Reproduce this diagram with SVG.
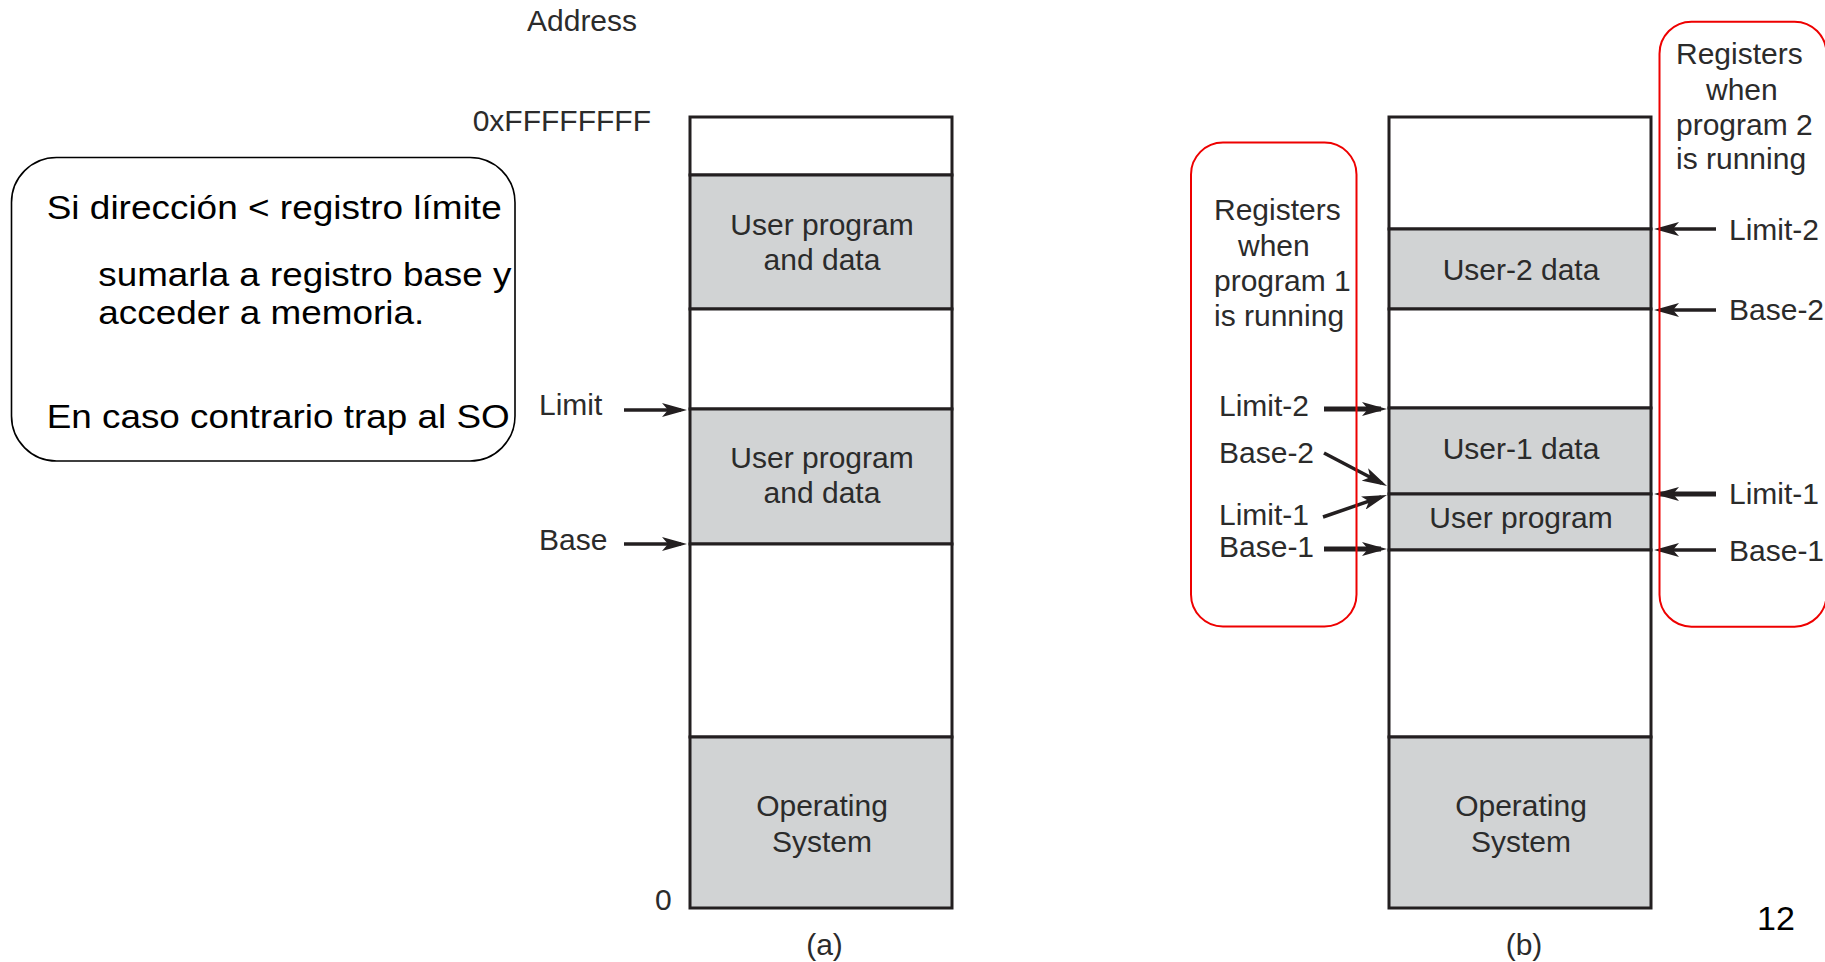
<svg xmlns="http://www.w3.org/2000/svg" width="1825" height="962" viewBox="0 0 1825 962">
  <style>
    .lbl { font-family: "Liberation Sans", Arial, sans-serif; font-size: 30px; fill: #2b2b2b; }
    .mid { text-anchor: middle; }
    .es { font-family: "Liberation Sans", Arial, sans-serif; font-size: 34px; fill: #000; }
    .blk { fill: #fff; stroke: #231f20; stroke-width: 3; }
    .gry { fill: #d1d3d4; stroke: #231f20; stroke-width: 3; }
    .arr { stroke: #231f20; stroke-width: 3.5; fill: none; marker-end: url(#ah); }
    .arrT { stroke: #231f20; stroke-width: 5; fill: none; marker-end: url(#ah); }
    .red { fill: none; stroke: #ee0000; stroke-width: 2; }
  </style>
  <defs>
    <marker id="ah" viewBox="0 0 25 14" refX="19" refY="7" markerWidth="25" markerHeight="14" markerUnits="userSpaceOnUse" orient="auto">
      <path d="M0,0 L25,7 L0,14 L6,7 Z" fill="#231f20"/>
    </marker>
  </defs>

  <!-- Spanish note box -->
  <g id="note">
    <rect x="11.5" y="157.5" width="503.5" height="303.5" rx="45" ry="45" fill="#fff" stroke="#000" stroke-width="1.6"/>
    <text class="es" x="46.7" y="218.5" textLength="455" lengthAdjust="spacingAndGlyphs">Si dirección &lt; registro límite</text>
    <text class="es" x="98.3" y="285.5" textLength="413" lengthAdjust="spacingAndGlyphs">sumarla a registro base y</text>
    <text class="es" x="98.3" y="323.5" textLength="326" lengthAdjust="spacingAndGlyphs">acceder a memoria.</text>
    <text class="es" x="46.7" y="428" textLength="463" lengthAdjust="spacingAndGlyphs">En caso contrario trap al SO</text>
  </g>

  <!-- Figure (a) -->
  <g id="axis-a">
    <text class="lbl" x="527" y="30.5">Address</text>
    <text class="lbl" x="472.7" y="130.5">0xFFFFFFFF</text>
    <text class="lbl" x="655" y="910">0</text>
    <text class="lbl mid" x="824.5" y="955">(a)</text>
    <text class="lbl" x="539" y="415">Limit</text>
    <text class="lbl" x="539" y="550">Base</text>
  </g>
  <g id="column-a">
    <rect class="blk" x="690" y="117" width="262" height="58"/>
    <rect class="gry" x="690" y="175" width="262" height="134"/>
    <rect class="blk" x="690" y="309" width="262" height="100"/>
    <rect class="gry" x="690" y="409" width="262" height="135"/>
    <rect class="blk" x="690" y="544" width="262" height="193"/>
    <rect class="gry" x="690" y="737" width="262" height="171"/>
    <text class="lbl mid" x="822" y="235">User program</text>
    <text class="lbl mid" x="822" y="270">and data</text>
    <text class="lbl mid" x="822" y="468">User program</text>
    <text class="lbl mid" x="822" y="503">and data</text>
    <text class="lbl mid" x="822" y="816">Operating</text>
    <text class="lbl mid" x="822" y="852">System</text>
  </g>

  <!-- Figure (b) -->
  <g id="column-b">
    <rect class="blk" x="1389" y="117" width="262" height="112"/>
    <rect class="gry" x="1389" y="229" width="262" height="80"/>
    <rect class="blk" x="1389" y="309" width="262" height="99"/>
    <rect class="gry" x="1389" y="408" width="262" height="86"/>
    <rect class="gry" x="1389" y="494" width="262" height="56"/>
    <rect class="blk" x="1389" y="550" width="262" height="187"/>
    <rect class="gry" x="1389" y="737" width="262" height="171"/>
    <text class="lbl mid" x="1521" y="280">User-2 data</text>
    <text class="lbl mid" x="1521" y="459">User-1 data</text>
    <text class="lbl mid" x="1521" y="528">User program</text>
    <text class="lbl mid" x="1521" y="816">Operating</text>
    <text class="lbl mid" x="1521" y="852">System</text>
    <text class="lbl mid" x="1524" y="955">(b)</text>
  </g>

  <g id="regs-prog1">
    <text class="lbl" x="1214" y="219.5">Registers</text>
    <text class="lbl" x="1238" y="256">when</text>
    <text class="lbl" x="1214" y="291">program 1</text>
    <text class="lbl" x="1214" y="325.5">is running</text>
    <text class="lbl" x="1219" y="416">Limit-2</text>
    <text class="lbl" x="1219" y="463">Base-2</text>
    <text class="lbl" x="1219" y="525">Limit-1</text>
    <text class="lbl" x="1219" y="557">Base-1</text>
  </g>

  <g id="regs-prog2">
    <text class="lbl" x="1676" y="63.5">Registers</text>
    <text class="lbl" x="1706" y="99.5">when</text>
    <text class="lbl" x="1676" y="134.5">program 2</text>
    <text class="lbl" x="1676" y="169">is running</text>
    <text class="lbl" x="1729" y="239.5">Limit-2</text>
    <text class="lbl" x="1729" y="320">Base-2</text>
    <text class="lbl" x="1729" y="504">Limit-1</text>
    <text class="lbl" x="1729" y="560.5">Base-1</text>
  </g>

  <g id="connectors">
    <line class="arr" x1="624" y1="410" x2="681" y2="410"/>
    <line class="arr" x1="624" y1="544" x2="681" y2="544"/>
    <line class="arrT" x1="1324" y1="409" x2="1381" y2="409"/>
    <line class="arr" x1="1324" y1="453" x2="1381.7" y2="483.2"/>
    <line class="arr" x1="1323" y1="517" x2="1381.3" y2="496.9"/>
    <line class="arrT" x1="1324" y1="549" x2="1381" y2="549"/>
    <line class="arr" x1="1716" y1="229" x2="1660" y2="229"/>
    <line class="arr" x1="1716" y1="310" x2="1660" y2="310"/>
    <line class="arrT" x1="1716" y1="494" x2="1660" y2="494"/>
    <line class="arr" x1="1716" y1="550" x2="1660" y2="550"/>
  </g>

  <g id="red-boxes">
    <rect class="red" x="1191" y="142.5" width="165.5" height="484" rx="32" ry="32"/>
    <rect class="red" x="1659.5" y="21.7" width="167" height="605" rx="32" ry="32"/>
  </g>

  <text x="1757" y="929.5" font-family="Liberation Sans, Arial, sans-serif" font-size="34" fill="#000">12</text>
</svg>
